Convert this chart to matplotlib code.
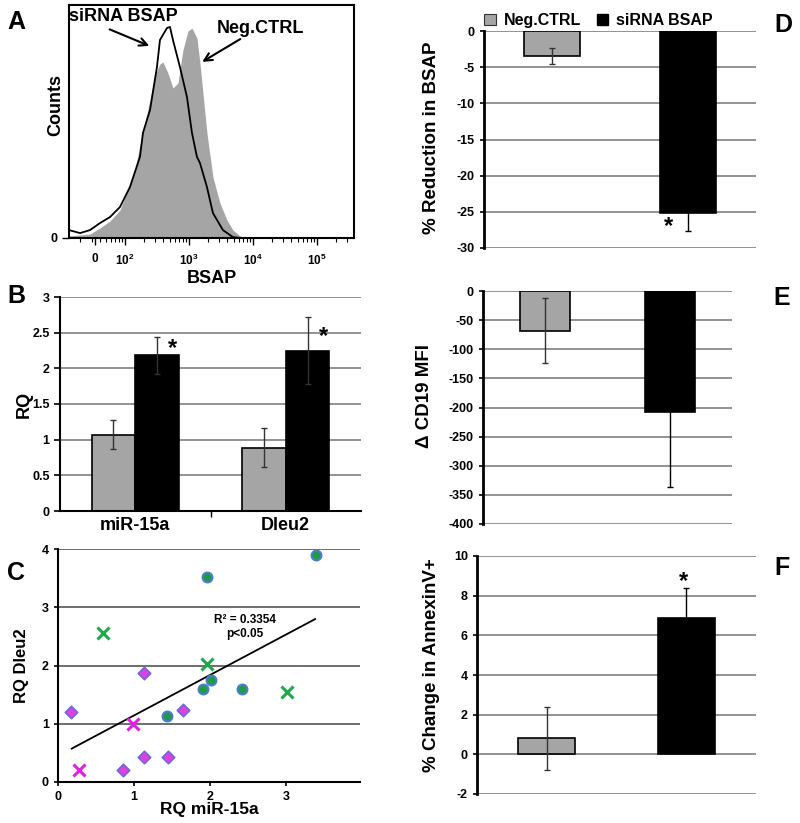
import matplotlib
matplotlib.use('Agg')
import matplotlib.pyplot as plt
from matplotlib.patches import Patch
import numpy as np

plt.rcParams['font.family'] = ['Liberation Sans', 'DejaVu Sans']
plt.rcParams['font.weight'] = 'bold'
plt.rcParams['axes.unicode_minus'] = False
plt.rcParams['mathtext.fontset'] = 'custom'
plt.rcParams['mathtext.rm'] = 'Liberation Sans'
plt.rcParams['mathtext.bf'] = 'Liberation Sans:bold'

GRAY = '#a5a5a5'
GRID = '#808080'

# ---- A: flow histogram (x = display position in decades, y = % of max counts)
neg_x = [1.125, 1.453, 1.609, 1.766, 1.922, 2.031, 2.156, 2.234, 2.391, 2.469, 2.547,
         2.594, 2.672, 2.75, 2.828, 2.906, 2.984, 3.047, 3.125, 3.172, 3.219, 3.281,
         3.375, 3.484, 3.594, 3.688, 3.797, 3.875, 5.6]
neg_y = [0.9, 1.7, 4.3, 7.3, 12.0, 19.7, 29.2, 39.9, 59.2, 70.0, 74.7,
         75.5, 70.8, 64.4, 66.5, 80.7, 88.8, 90.1, 85.8, 75.1, 62.2, 45.1,
         26.2, 15.0, 7.7, 3.4, 0.9, 0.0, 0.0]
sir_x = [1.125, 1.297, 1.453, 1.609, 1.766, 1.922, 2.078, 2.234, 2.281, 2.391, 2.5,
         2.547, 2.656, 2.703, 2.75, 2.859, 2.969, 3.047, 3.125, 3.172, 3.281, 3.375,
         3.531, 3.688, 3.8, 5.6]
sir_y = [3.4, 2.1, 3.4, 6.4, 9.0, 13.3, 21.9, 34.8, 45.1, 54.9, 73.4,
         85.0, 90.1, 90.6, 85.0, 73.4, 60.5, 45.1, 34.8, 32.2, 21.9, 10.7,
         3.4, 0.4, 0.0, 0.0]
a_tick_pos = [1.53, 2, 3, 4, 5]
a_tick_lab = ['0', r'$\mathbf{10^2}$', r'$\mathbf{10^3}$', r'$\mathbf{10^4}$', r'$\mathbf{10^5}$']

# ---- B: RQ
genes = ['miR-15a', 'Dleu2']
rq_neg = [1.07, 0.89]
rq_neg_err = [0.20, 0.27]
rq_si = [2.18, 2.25]
rq_si_err = [0.26, 0.47]
rq_star = [2.28, 2.44]

# ---- C: scatter
circ_x = [3.39, 1.96, 2.01, 1.90, 2.42, 1.43]
circ_y = [3.90, 3.52, 1.75, 1.60, 1.60, 1.14]
diam_x = [0.17, 1.13, 1.64, 1.13, 1.45, 0.85]
diam_y = [1.21, 1.87, 1.24, 0.43, 0.43, 0.20]
xg_x = [0.59, 1.96, 3.01]
xg_y = [2.55, 2.03, 1.55]
xm_x = [0.99, 0.28]
xm_y = [1.00, 0.20]
fit_slope = 0.695
fit_icpt = 0.448
fit_xr = [0.18, 3.38]

# ---- D, E, F
groups = ['Neg.CTRL', 'siRNA BSAP']
bsap_red = [-3.5, -25.1]
bsap_err = [1.1, 2.5]
cd19 = [-68, -208]
cd19_err = [56, 128]
annex = [0.8, 6.87]
annex_err = [1.57, 1.5]

fig = plt.figure(figsize=(8, 8.23), dpi=100)
W, H = 800.0, 823.0
TICK = 9
LAB = 13


def box(l, r, t, b):
    return [l / W, 1 - b / H, (r - l) / W, (b - t) / H]


# ---------------- A
ax = fig.add_axes(box(69, 354, 5, 238))
ax.fill_between(neg_x, neg_y, color=GRAY, lw=0)
ax.plot(sir_x, sir_y, color='black', lw=1.3)
ax.set_xlim(1.125, 5.58)
ax.set_ylim(0, 100)
ax.set_xticks(a_tick_pos)
ax.set_xticklabels(a_tick_lab, fontsize=8.5)
minor = [np.log10(k * 10 ** d) for d in range(1, 6) for k in range(2, 10)]
minor = [m for m in minor if 1.13 < m < 5.58]
ax.set_xticks(minor, minor=True)
ax.tick_params(axis='x', which='major', length=5, width=1, pad=6)
ax.tick_params(axis='x', which='minor', length=3, width=0.8)
ax.set_yticks([0])
ax.tick_params(axis='y', length=5, width=1, labelsize=TICK)
for s in ax.spines.values():
    s.set_linewidth(1.5)
ax.set_xlabel('BSAP', fontsize=LAB, fontweight='bold', labelpad=1)
ax.set_ylabel('Counts', fontsize=LAB, fontweight='bold')
ax.yaxis.set_label_coords(-0.018, 0.57)
ax.text(1.98, 95, 'siRNA BSAP', fontsize=LAB, fontweight='bold', ha='center', va='center')
ax.text(4.12, 89.7, 'Neg.CTRL', fontsize=LAB, fontweight='bold', ha='center', va='center')
ax.annotate('', xy=(2.42, 82), xytext=(1.72, 90),
            arrowprops=dict(arrowstyle='->', lw=1.5, color='black', mutation_scale=14))
ax.annotate('', xy=(3.17, 75), xytext=(3.84, 86),
            arrowprops=dict(arrowstyle='->', lw=1.5, color='black', mutation_scale=14))

# ---------------- B
ax = fig.add_axes(box(60, 361, 297, 511))
xb = np.arange(len(genes))
bw = 0.29
ax.bar(xb - bw / 2, rq_neg, bw, color=GRAY, edgecolor='black', lw=1.2, zorder=2)
ax.bar(xb + bw / 2, rq_si, bw, color='black', edgecolor='black', lw=1.2, zorder=2)
ax.errorbar(xb - bw / 2, rq_neg, yerr=rq_neg_err, fmt='none', ecolor='#333333',
            elinewidth=1, capsize=2.5, zorder=3)
ax.errorbar(xb + bw / 2, rq_si, yerr=rq_si_err, fmt='none', ecolor='#333333',
            elinewidth=1, capsize=2.5, zorder=3)
for i in range(len(genes)):
    ax.text(xb[i] + 0.25, rq_star[i], '*', fontsize=17,
            fontweight='bold', ha='center', va='center')
ax.set_xlim(-0.5, 1.5)
ax.set_ylim(0, 3)
ax.set_yticks(np.arange(0, 3.01, 0.5))
ax.set_yticklabels(['0', '0.5', '1', '1.5', '2', '2.5', '3'])
ax.set_xticks(xb)
ax.set_xticklabels(genes, fontsize=LAB)
ax.set_xticks([0.5], minor=True)
ax.tick_params(axis='x', which='major', length=0, pad=4)
ax.tick_params(axis='x', which='minor', length=4, width=1)
ax.tick_params(axis='y', length=4, width=1.2, labelsize=TICK)
ax.yaxis.grid(True, color=GRID, lw=1.2)
ax.set_axisbelow(True)
ax.spines['top'].set_visible(False)
ax.spines['right'].set_visible(False)
ax.spines['left'].set_linewidth(1.5)
ax.spines['bottom'].set_linewidth(1.5)
ax.set_ylabel('RQ', fontsize=LAB, fontweight='bold')
ax.yaxis.set_label_coords(-0.09, 0.5)

# ---------------- C
ax = fig.add_axes(box(58, 360, 549, 782))
ax.scatter(circ_x, circ_y, s=50, marker='o', c='#1f9a48', edgecolors='#4a7ec8', lw=1.5, zorder=3)
ax.scatter(diam_x, diam_y, s=40, marker='D', c='#e040e0', edgecolors='#6a6adc', lw=1.2, zorder=3)
ax.scatter(xg_x, xg_y, s=75, marker='x', c='#22a84a', lw=2.2, zorder=3)
ax.scatter(xm_x, xm_y, s=75, marker='x', c='#e020e0', lw=2.2, zorder=3)
fx = np.array(fit_xr)
ax.plot(fx, fit_slope * fx + fit_icpt, color='black', lw=1.3, zorder=2)
ax.text(2.46, 2.78, 'R² = 0.3354', fontsize=8.5, fontweight='bold', ha='center', va='center',
        family=['Liberation Sans Narrow', 'Liberation Sans'])
ax.text(2.46, 2.54, 'p<0.05', fontsize=8.5, fontweight='bold', ha='center', va='center',
        family=['Liberation Sans Narrow', 'Liberation Sans'])
ax.set_xlim(0, 3.97)
ax.set_ylim(0, 4)
ax.set_xticks([0, 1, 2, 3])
ax.set_yticks([0, 1, 2, 3, 4])
ax.tick_params(axis='both', length=3, width=1.2, labelsize=TICK)
ax.yaxis.grid(True, color='#555555', lw=1.2)
ax.set_axisbelow(True)
ax.spines['top'].set_visible(False)
ax.spines['right'].set_visible(False)
ax.spines['left'].set_linewidth(1.5)
ax.spines['bottom'].set_linewidth(1.5)
ax.set_xlabel('RQ miR-15a', fontsize=12.5, fontweight='bold', labelpad=-1)
ax.set_ylabel('RQ Dleu2', fontsize=12, fontweight='bold')
ax.yaxis.set_label_coords(-0.096, 0.5)


# ---------------- D, E, F
def bars(ax, vals, errs, width, ylim, yticks, ylabel, star=None):
    xs = np.arange(len(groups))
    ax.bar(xs, vals, width, color=[GRAY, 'black'], edgecolor='black', lw=1.2, zorder=2)
    ax.errorbar(xs[:1], vals[:1], yerr=errs[:1], fmt='none', ecolor='#333333',
                elinewidth=1, capsize=2.5, zorder=3)
    ax.errorbar(xs[1:], vals[1:], yerr=errs[1:], fmt='none', ecolor='black',
                elinewidth=1, capsize=2.5, zorder=3)
    ax.set_xlim(-0.5, 1.5)
    ax.set_ylim(*ylim)
    ax.set_yticks(yticks)
    ax.set_xticks([])
    ax.tick_params(axis='y', length=3, width=1.2, labelsize=TICK)
    ax.yaxis.grid(True, color=GRID, lw=1.2)
    ax.set_axisbelow(True)
    for k in ['top', 'right', 'bottom']:
        ax.spines[k].set_visible(False)
    ax.spines['left'].set_linewidth(2)
    ax.set_ylabel(ylabel, fontsize=13.5, fontweight='bold')
    if star is not None:
        ax.text(star[0], star[1], '*', fontsize=17, fontweight='bold', ha='center', va='center')
    return xs


ax = fig.add_axes(box(484, 756, 31, 248))
bars(ax, bsap_red, bsap_err, 0.41, (-30, 0), np.arange(0, -31, -5),
     '% Reduction in BSAP', star=(0.86, -27.0))
ax.yaxis.set_label_coords(-0.162, 0.51)
hl = [Patch(facecolor=GRAY, edgecolor='#333333', lw=0.8), Patch(facecolor='black', edgecolor='black')]
ax.legend(hl, groups, ncol=2, loc='lower left', bbox_to_anchor=(-0.01, 1.0), frameon=False,
          prop={'size': 11.5, 'weight': 'bold'}, handlelength=0.7, handleheight=0.7,
          handletextpad=0.5, columnspacing=1.0, borderaxespad=0, borderpad=0.2)

ax = fig.add_axes(box(483, 732, 291, 524))
bars(ax, cd19, cd19_err, 0.40, (-400, 0), np.arange(0, -401, -50), 'Δ CD19 MFI')
ax.yaxis.set_label_coords(-0.20, 0.55)

ax = fig.add_axes(box(477, 756, 556, 794))
bars(ax, annex, annex_err, 0.41, (-2, 10), np.arange(-2, 11, 2),
     '% Change in AnnexinV+', star=(0.98, 8.7))
ax.yaxis.set_label_coords(-0.133, 0.54)

# panel letters
for lab, x, y in [('A', 16, 22), ('B', 16, 296), ('C', 16, 573),
                  ('D', 783, 25), ('E', 782, 298), ('F', 782, 568)]:
    fig.text(x / W, 1 - y / H, lab, fontsize=18, fontweight='bold', ha='center', va='center')

fig.savefig('out.png', dpi=100)
